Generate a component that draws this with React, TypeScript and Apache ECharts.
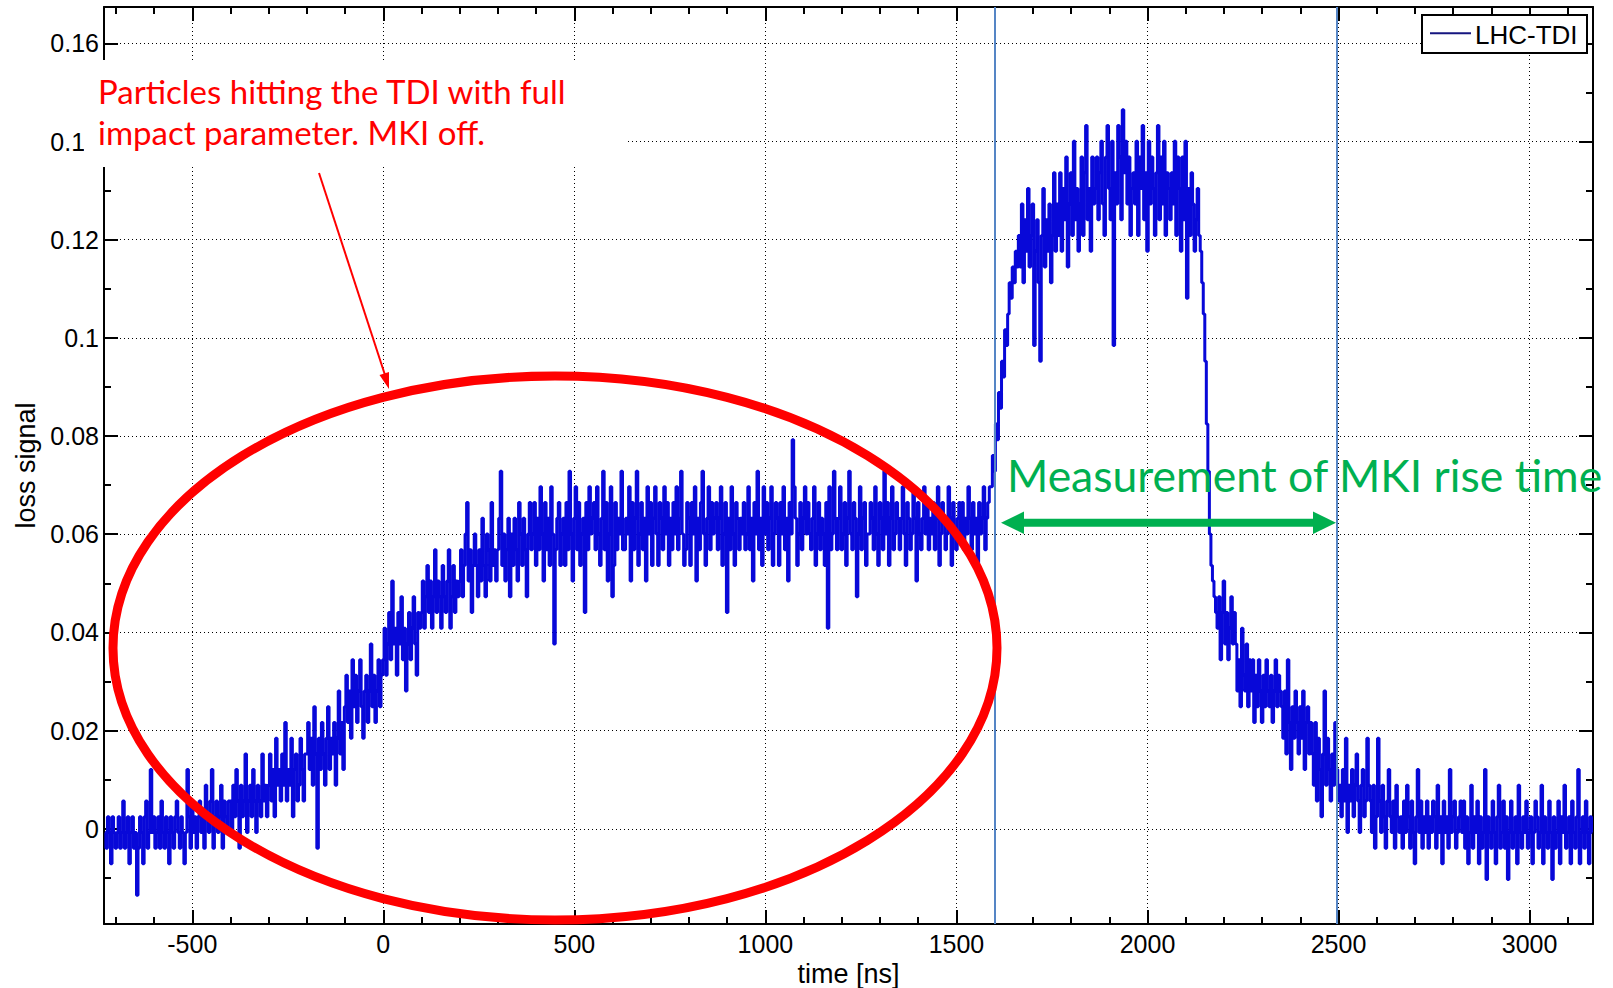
import { useEffect, useRef } from 'react';
import * as echarts from 'echarts';

// Sampling of the trace (ns)
const sampleStartNs = -728;
const samplePeriodNs = 4;
// ADC calibration: signal = offset + counts * lsb
const signalLsb = 0.0032;
const signalOffset = -0.00075;

// Trace, in ADC counts
const baselineCounts = [
  0,-1,1,0,-2,1,0,-1,0,1,-1,0,2,-1,0,1,-2,0,1,-1,
  0,-4,-1,1,0,-2,1,2,-1,0,4,0,1,-1,0,1,-1,2,0,-1,
  1,0,-2,1,0,-1,1,2,0,-1,1,0,-2,0,4,1,-1,2,0,1,
  -1,1,2,0,1,-1,3,1,0,2,4,-1,1,2,0,1,3,-1,2,1,
  0,2,
];
const rampCounts = [
  2,0,3,1,4,2,-1,3,1,2,5,0,2,3,1,4,2,0,3,2,1,5,2,3,1,
  3,5,2,4,1,6,3,4,2,5,3,7,2,4,3,6,1,4,5,2,3,6,4,2,5,
  5,7,4,6,3,8,5,-1,6,4,7,5,3,6,8,4,6,5,7,3,6,9,5,7,4,
  8,10,7,9,6,11,8,10,7,9,11,8,6,9,10,7,9,12,8,10,7,9,11,8,10,
  11,13,10,12,14,11,16,12,13,10,14,12,15,11,13,9,12,14,11,13,15,12,10,14,13,
  14,16,13,15,17,14,16,13,15,18,14,16,15,13,17,15,14,16,18,13,15,17,14,16,15,
  16,18,15,17,19,21,16,18,14,17,19,17,15,18,16,20,17,15,19,18,16,21,17,18,16,
  18,20,23,17,19,16,18,20,15,19,17,20,18,16,21,19,17,20,18,15,19,21,18,
];
const plateauCounts = [
  19,21,17,20,18,22,19,16,21,18,20,17,22,19,12,18,20,21,17,19,
  20,17,21,18,23,19,16,20,22,18,21,17,19,20,14,21,18,22,19,20,
  21,18,22,19,17,20,23,18,21,16,19,22,15,17,21,18,20,19,23,18,
  18,20,19,22,16,21,18,20,23,17,19,21,18,20,16,22,19,21,17,20,
  22,19,17,21,20,18,22,19,21,17,20,18,21,19,22,18,20,23,19,17,
  18,21,20,17,21,19,22,16,20,18,21,23,19,17,20,22,18,21,19,20,
  21,18,20,22,17,19,21,14,20,18,22,19,17,21,20,18,20,19,21,18,
  19,22,18,20,16,21,19,23,18,20,17,22,19,21,18,20,22,17,19,21,
  20,17,21,19,22,18,20,16,21,19,25,22,20,17,19,21,18,20,22,19,
  21,19,18,20,22,17,19,21,18,20,19,17,21,13,22,18,19,23,20,18,
  20,22,18,19,21,17,20,23,19,18,21,20,15,19,22,18,20,21,17,19,
  19,21,20,18,22,19,17,21,20,18,23,19,21,17,20,22,18,19,21,20,
  18,20,22,19,17,21,20,18,19,22,20,16,21,19,18,20,22,19,21,18,
  20,19,21,18,20,22,17,19,21,20,18,19,22,20,17,21,19,18,20,21,
  19,21,18,20,19,22,20,18,21,19,20,17,21,19,20,22,18,20,21,22,
];
const riseCounts = [22,24,23,26,25,28,27,30,29,32,31,33,35,34,36,35,37,36];
const pulseCounts = [
  38,36,40,35,39,37,41,36,38,40,31,37,39,35,30,38,41,36,39,37,40,35,38,42,37,
  40,38,42,37,41,39,43,36,40,42,38,44,39,41,37,40,43,38,42,45,39,41,37,43,40,
  41,43,39,42,44,40,38,43,45,41,39,44,31,42,40,45,43,39,46,42,44,40,43,38,41,
  42,40,44,38,43,41,45,39,42,37,44,40,43,41,38,42,45,39,43,40,44,38,42,41,39,
  42,40,44,38,43,41,37,43,39,44,34,41,38,42,40,37,39,41,38,
];
const fallCounts = [37,35,33,30,26,23,19,17,16,15,14];
const tailCounts = [
  13,15,11,14,16,12,14,11,13,15,12,14,
  12,9,11,8,13,10,9,12,8,11,
  9,11,7,10,8,11,9,7,10,8,11,9,8,10,7,9,11,8,10,9,
  8,6,9,5,11,7,4,8,6,9,7,5,8,6,9,4,7,8,5,7,
  5,3,7,2,6,4,1,5,9,3,6,4,2,5,3,7,4,2,
  3,1,4,2,6,0,3,2,4,1,3,5,2,0,3,4,1,2,6,3,
  2,0,3,-1,1,6,2,0,3,1,-1,2,4,1,0,2,-1,3,1,0,
  1,-1,2,0,3,1,-1,2,0,-2,1,4,0,2,-1,1,0,2,-1,1,
  0,2,1,-1,3,0,1,-2,2,0,1,-1,4,0,1,2,-1,0,1,2,
  0,2,-1,1,-2,0,3,-1,1,0,2,-2,1,-1,0,4,-3,1,0,-1,
  2,0,-2,1,3,-1,0,2,-1,1,-3,0,2,-1,0,1,-2,3,0,-1,
  1,0,2,-1,0,1,-2,0,2,1,-1,0,3,-2,1,0,-1,2,0,-3,
  1,-1,0,2,-2,1,0,3,-1,0,1,-2,2,0,-1,1,4,-2,0,1,
  -1,2,0,-2,1,0,
];

// Marker lines (ns)
const markerTimes = [1601, 2495];

const seriesName = 'LHC-TDI';
const xAxisName = 'time [ns]';
const yAxisName = 'loss signal';
const redNoteLines = ['Particles hitting the TDI with full', 'impact parameter. MKI off.'];
const greenNote = 'Measurement of MKI rise time';

const axisFont = "'Liberation Sans', Arial, sans-serif";
const noteFont = "Lato, 'Open Sans', sans-serif";

export default function App() {
  const ref = useRef<HTMLDivElement>(null);
  useEffect(() => {
    if (!ref.current) return;
    const chart = echarts.init(ref.current, undefined, { renderer: 'svg' });
    const counts = [
      ...baselineCounts, ...rampCounts, ...plateauCounts, ...riseCounts,
      ...pulseCounts, ...fallCounts, ...tailCounts,
    ];
    const data = counts.map((k, i) => [sampleStartNs + i * samplePeriodNs, +(signalOffset + k * signalLsb).toFixed(5)]);

    const axisLineStyle = { color: '#000', width: 2 };
    const grid = { type: [1, 3] as any, color: '#000', width: 1 };

    const xCommon = {
      type: 'value' as const,
      min: -731,
      max: 3166,
      minInterval: 500,
      maxInterval: 500,
      splitNumber: 8,
      axisLine: { show: true, onZero: false, lineStyle: axisLineStyle },
      axisTick: { show: true, inside: true, length: 14, lineStyle: { color: '#000', width: 2 } },
      minorTick: { show: true, splitNumber: 5, length: 7, lineStyle: { color: '#000', width: 2 } },
    };
    const yCommon = {
      type: 'value' as const,
      min: -0.0194,
      max: 0.1674,
      minInterval: 0.02,
      maxInterval: 0.02,
      splitNumber: 9,
      axisLine: { show: true, onZero: false, lineStyle: axisLineStyle },
      axisTick: { show: true, inside: true, length: 14, lineStyle: { color: '#000', width: 2 } },
      minorTick: { show: true, splitNumber: 2, length: 7, lineStyle: { color: '#000', width: 2 } },
    };

    chart.setOption({
      animation: false,
      backgroundColor: '#fff',
      grid: { left: 104, right: 20, top: 7, bottom: 64, containLabel: false, outerBoundsMode: 'none' },
      xAxis: [
        {
          ...xCommon,
          position: 'bottom',
          name: xAxisName,
          nameLocation: 'middle',
          nameGap: 34,
          nameTextStyle: { fontFamily: axisFont, fontSize: 27, color: '#000' },
          axisLabel: {
            show: true, showMinLabel: false, showMaxLabel: false, margin: 7,
            fontFamily: axisFont, fontSize: 25, color: '#000',
            formatter: (v: number) => String(v),
          },
          splitLine: { show: true, lineStyle: grid },
        },
        {
          ...xCommon,
          position: 'top',
          axisLabel: { show: false },
          splitLine: { show: false },
        },
      ],
      yAxis: [
        {
          ...yCommon,
          position: 'left',
          name: yAxisName,
          nameLocation: 'middle',
          nameGap: 65,
          nameTextStyle: { fontFamily: axisFont, fontSize: 27, color: '#000' },
          axisLabel: { show: true, showMinLabel: false, showMaxLabel: false, margin: 5, fontFamily: axisFont, fontSize: 25, color: '#000' },
          splitLine: { show: true, lineStyle: grid },
        },
        {
          ...yCommon,
          position: 'right',
          axisLabel: { show: false },
          splitLine: { show: false },
        },
      ],
      series: [
        {
          name: seriesName,
          type: 'line',
          xAxisIndex: 0,
          yAxisIndex: 0,
          data,
          step: 'middle',
          showSymbol: false,
          symbol: 'none',
          lineStyle: { color: '#0808d8', width: 3 },
          itemStyle: { color: '#0808d8' },
          z: 3,
          markLine: {
            silent: true,
            symbol: ['none', 'none'],
            label: { show: false },
            lineStyle: { color: '#5585c5', width: 2, type: 'solid' },
            data: markerTimes.map((t) => ({ xAxis: t })),
            z: 4,
          },
        },
      ],
      graphic: [
        // white panel behind the red note
        { type: 'rect', z: 50, shape: { x: 84, y: 60, width: 544, height: 107 }, style: { fill: '#fff' } },
        { type: 'text', z: 60, x: 98, y: 91, style: { text: redNoteLines[0], font: `33px ${noteFont}`, fill: '#ff0000', verticalAlign: 'middle', align: 'left' } },
        { type: 'text', z: 60, x: 98, y: 132, style: { text: redNoteLines[1], font: `33px ${noteFont}`, fill: '#ff0000', verticalAlign: 'middle', align: 'left' } },
        // red pointer arrow
        { type: 'line', z: 60, shape: { x1: 319, y1: 173, x2: 385, y2: 375 }, style: { stroke: '#ff0000', lineWidth: 2 } },
        { type: 'polygon', z: 60, shape: { points: [[389, 389], [389, 372], [379.5, 375]] }, style: { fill: '#ff0000' } },
        // red ellipse
        { type: 'ellipse', z: 55, shape: { cx: 555, cy: 648, rx: 442, ry: 272 }, style: { fill: null, stroke: '#ff0000', lineWidth: 9 } },
        // green note and double arrow
        { type: 'text', z: 60, x: 1007, y: 474, style: { text: greenNote, font: `44.5px ${noteFont}`, fill: '#00b050', verticalAlign: 'middle', align: 'left' } },
        { type: 'line', z: 60, shape: { x1: 1020, y1: 522.7, x2: 1317, y2: 522.7 }, style: { stroke: '#00b050', lineWidth: 8 } },
        { type: 'polygon', z: 60, shape: { points: [[1001, 522.7], [1024, 511.5], [1024, 534]] }, style: { fill: '#00b050' } },
        { type: 'polygon', z: 60, shape: { points: [[1336, 522.7], [1313, 511.5], [1313, 534]] }, style: { fill: '#00b050' } },
        // legend
        { type: 'rect', z: 60, shape: { x: 1422, y: 15, width: 165, height: 38 }, style: { fill: '#fff', stroke: '#000', lineWidth: 2 } },
        { type: 'line', z: 61, shape: { x1: 1430, y1: 33.3, x2: 1471, y2: 33.3 }, style: { stroke: '#15157f', lineWidth: 2 } },
        { type: 'text', z: 61, x: 1475, y: 35, style: { text: seriesName, font: `26px ${axisFont}`, fill: '#000', verticalAlign: 'middle', align: 'left' } },
      ],
    });
    return () => chart.dispose();
  }, []);
  return <div ref={ref} style={{ position: 'fixed', left: 0, top: 0, width: 1613, height: 988 }} />;
}
